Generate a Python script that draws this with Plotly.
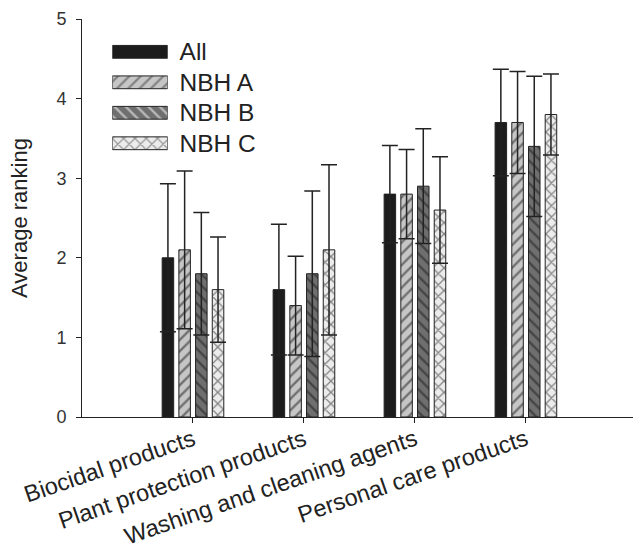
import plotly.graph_objects as go

# Product categories and average ranking per neighbourhood group
categories = ["Biocidal products", "Plant protection products",
              "Washing and cleaning agents", "Personal care products"]
series_names = ["All", "NBH A", "NBH B", "NBH C"]

all_mean = [2.0, 1.6, 2.8, 3.7]
all_err = [0.93, 0.82, 0.61, 0.67]
nbh_a_mean = [2.1, 1.4, 2.8, 3.7]
nbh_a_err = [0.99, 0.62, 0.56, 0.64]
nbh_b_mean = [1.8, 1.8, 2.9, 3.4]
nbh_b_err = [0.77, 1.04, 0.72, 0.88]
nbh_c_mean = [1.6, 2.1, 2.6, 3.8]
nbh_c_err = [0.66, 1.07, 0.67, 0.51]

y_ticks = [0, 1, 2, 3, 4, 5]

means = [all_mean, nbh_a_mean, nbh_b_mean, nbh_c_mean]
errs = [all_err, nbh_a_err, nbh_b_err, nbh_c_err]

# fill styles: background colour + hatch shape
fill_colors = ["#1c1c1c", "#c6c6c6", "#6f6f6f", "#ececec"]
hatch_shapes = ["", "/", "\\", "x"]
INK = "#222222"
FONT = "Liberation Sans, Arial, Helvetica, sans-serif"
HATCH = dict(fillmode="overlay", fgcolor="#1a1a1a", size=8, solidity=0.3)

fig = go.Figure()

for name, m, e, col, shp in zip(series_names, means, errs, fill_colors, hatch_shapes):
    fig.add_trace(go.Bar(
        x=categories, y=m, name=name, showlegend=False,
        marker=dict(color=col, line=dict(color=INK, width=1),
                    pattern=dict(shape=shp, **HATCH)),
        error_y=dict(type="data", array=e, visible=True,
                     color=INK, thickness=1.5, width=8),
    ))

# key: one horizontal bar per series on a small inset axis
fig.add_trace(go.Bar(
    x=[1] * len(series_names), y=series_names, orientation="h",
    xaxis="x2", yaxis="y2", showlegend=False, width=0.42,
    marker=dict(color=fill_colors, line=dict(color=INK, width=1),
                pattern=dict(shape=hatch_shapes, **HATCH)),
    hoverinfo="skip",
))

fig.update_layout(
    width=633, height=553,
    margin=dict(l=82, r=0, t=19, b=136),
    paper_bgcolor="white", plot_bgcolor="white",
    barmode="group", bargap=0.398, bargroupgap=0.31,
    font=dict(family=FONT, color=INK),
    showlegend=False,
    xaxis=dict(
        type="category", range=[-1.0, 3.965], automargin=False,
        showline=True, linecolor=INK, linewidth=1,
        ticks="outside", ticklen=5, tickcolor=INK, tickwidth=1,
        tickangle=-19, ticklabelstandoff=-6,
        tickfont=dict(size=23.5, color=INK),
        showgrid=False, zeroline=False,
    ),
    yaxis=dict(
        range=[0, 5], tickvals=y_ticks, automargin=False,
        showline=True, linecolor=INK, linewidth=1,
        ticks="outside", ticklen=5, tickcolor=INK, tickwidth=1,
        ticklabelstandoff=6,
        tickfont=dict(size=18, color="#333333"),
        showgrid=False, zeroline=False,
        title=dict(text="Average ranking", font=dict(size=22, color=INK), standoff=22),
    ),
    xaxis2=dict(domain=[0.055, 0.1555], range=[0, 1], anchor="y2",
                visible=False, fixedrange=True),
    yaxis2=dict(domain=[0.6495, 0.9558], anchor="x2", side="right",
                type="category", autorange="reversed", automargin=False,
                showline=False, showgrid=False, zeroline=False,
                ticks="outside", ticklen=6, tickcolor="rgba(0,0,0,0)",
                tickfont=dict(size=24.5, color=INK), fixedrange=True),
)

fig.write_html("out.html")
